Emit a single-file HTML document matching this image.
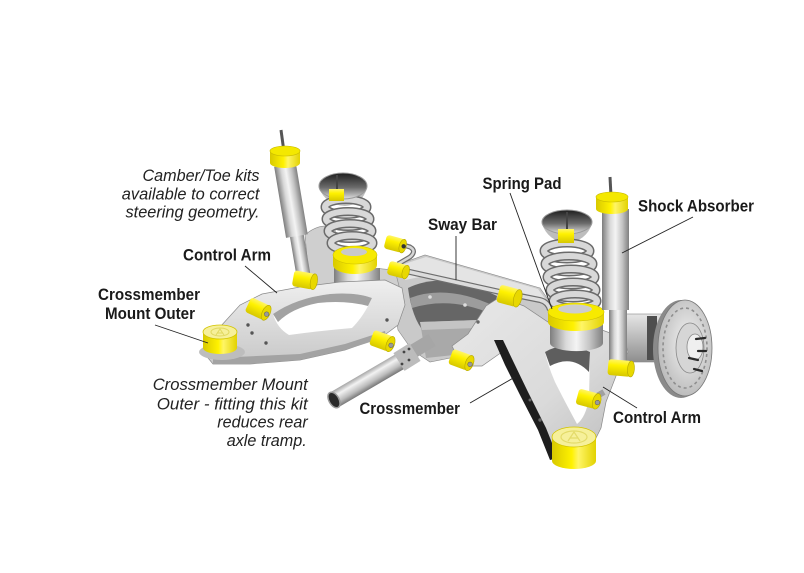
<!DOCTYPE html>
<html><head><meta charset="utf-8"><style>
html,body{margin:0;padding:0;background:#fff;}
svg{display:block}
text{font-family:"Liberation Sans",Arial,sans-serif;fill:#1a1a1a}
.b{font-weight:bold;font-size:16.5px}
.i{font-style:italic;font-size:17px;fill:#222}
</style></head><body>
<svg width="804" height="573" viewBox="0 0 804 573" xmlns="http://www.w3.org/2000/svg">
<defs>
<linearGradient id="cyl" x1="0" x2="1" y1="0" y2="0">
 <stop offset="0" stop-color="#7d7d7d"/><stop offset=".3" stop-color="#d9d9d9"/><stop offset=".5" stop-color="#f4f4f4"/><stop offset=".75" stop-color="#c4c4c4"/><stop offset="1" stop-color="#808080"/>
</linearGradient>
<linearGradient id="yel" x1="0" y1="0" x2="0" y2="1"><stop offset="0" stop-color="#fff566"/><stop offset=".35" stop-color="#fff200"/><stop offset="1" stop-color="#d6c700"/></linearGradient>
<linearGradient id="yelh" x1="0" y1="0" x2="1" y2="0"><stop offset="0" stop-color="#d8c900"/><stop offset=".45" stop-color="#fff200"/><stop offset=".6" stop-color="#fff566"/><stop offset="1" stop-color="#e2d200"/></linearGradient>
<linearGradient id="arm" x1="0" y1="0" x2="0" y2="1"><stop offset="0" stop-color="#efefef"/><stop offset="1" stop-color="#c8c8c8"/></linearGradient>
<linearGradient id="arm2" x1="0" y1="0" x2="1" y2="1"><stop offset="0" stop-color="#e8e8e8"/><stop offset=".6" stop-color="#dadada"/><stop offset="1" stop-color="#bdbdbd"/></linearGradient>
<linearGradient id="cup" x1="0" y1="0" x2="0" y2="1"><stop offset="0" stop-color="#1e1e1e"/><stop offset=".55" stop-color="#6a6a6a"/><stop offset="1" stop-color="#e0e0e0"/></linearGradient>
<radialGradient id="disc" cx=".55" cy=".45" r=".6"><stop offset="0" stop-color="#f4f4f4"/><stop offset="1" stop-color="#b8b8b8"/></radialGradient>
<linearGradient id="tube" gradientUnits="userSpaceOnUse" x1="365.7" y1="371.7" x2="374.3" y2="386.3">
 <stop offset="0" stop-color="#a8a8a8"/><stop offset=".3" stop-color="#f2f2f2"/><stop offset=".7" stop-color="#bcbcbc"/><stop offset="1" stop-color="#787878"/>
</linearGradient>
<linearGradient id="hubg" x1="0" y1="0" x2="0" y2="1"><stop offset="0" stop-color="#e6e6e6"/><stop offset="1" stop-color="#8e8e8e"/></linearGradient>
</defs>

<!-- Brake disc & hub -->
<rect x="622" y="314" width="40" height="48" fill="url(#hubg)" stroke="#888" stroke-width=".6"/>
<rect x="647" y="316" width="10" height="44" fill="#4e4e4e"/>
<ellipse cx="681" cy="349" rx="28" ry="49" fill="#8a8a8a"/>
<ellipse cx="685" cy="348" rx="27" ry="48" fill="url(#disc)" stroke="#777" stroke-width=".8"/>
<ellipse cx="685" cy="348" rx="22" ry="40" fill="none" stroke="#8e8e8e" stroke-width="1.6" stroke-dasharray="3 3"/>
<ellipse cx="690" cy="348" rx="14" ry="25" fill="#d6d6d6" stroke="#888" stroke-width=".8"/>
<ellipse cx="695" cy="347" rx="8" ry="13" fill="#efefef" stroke="#888" stroke-width=".8"/>
<g stroke="#2a2a2a" stroke-width="2.2" stroke-linecap="round">
<line x1="696" y1="339" x2="705" y2="338"/><line x1="698" y1="351" x2="706" y2="351"/>
<line x1="689" y1="358" x2="698" y2="360"/><line x1="694" y1="369" x2="702" y2="371"/>
</g>

<!-- Crossmember -->
<path d="M388,268 L425,255 L540,288 L552,305 L548,322 L500,335 L490,350 L430,362 L412,350 L398,330 Z" fill="#c9c9c9" stroke="#8a8a8a" stroke-width=".6"/>
<path d="M398,266 L426,257 L538,289 L546,300 L520,298 L500,292 L430,275 L405,280 Z" fill="#e4e4e4"/>
<path d="M408,288 Q445,270 497,296 Q492,318 478,332 Q450,340 424,332 Q412,318 408,288 Z" fill="#666"/>
<path d="M410,298 Q447,284 494,306 L492,314 Q450,296 412,308 Z" fill="#9c9c9c"/>
<circle cx="430" cy="297" r="1.8" fill="#ddd"/><circle cx="465" cy="305" r="1.8" fill="#ddd"/>
<path d="M420,322 L478,320 L482,352 L426,358 Z" fill="#a9a9a9"/>
<path d="M420,322 L478,320 L476,328 L422,330 Z" fill="#c4c4c4"/>

<!-- Left upright -->
<path d="M305,235 Q320,222 335,228 L338,265 L395,270 L400,290 L340,300 L310,290 Z" fill="#cfcfcf" stroke="#8a8a8a" stroke-width=".6"/>

<!-- Left shock -->
<line x1="281" y1="130" x2="284" y2="152" stroke="#555" stroke-width="3"/>
<g transform="translate(285,165) rotate(-9.5)">
 <rect x="-7" y="70" width="14" height="44" fill="url(#cyl)"/>
 <rect x="-11" y="0" width="22" height="72" fill="url(#cyl)"/>
</g>
<path d="M270,151 L270,163 A15,5 0 0 0 300,163 L300,151 Z" fill="url(#yelh)"/>
<ellipse cx="285" cy="151" rx="15" ry="5" fill="#f4e800" stroke="#c9bb00" stroke-width=".6"/>

<!-- Left spring base -->
<path d="M334,268 L334,286 A23,8 0 0 0 380,286 L380,268 Z" fill="url(#cyl)"/>
<!-- Left spring cup -->
<path d="M319,188 Q326,205 345,206 Q362,205 367,188 Z" fill="#bdbdbd"/>
<!-- Left coils -->
<g fill="none">
<ellipse cx="346" cy="207" rx="21" ry="7.5" stroke="#6b6b6b" stroke-width="9"/><ellipse cx="346" cy="207" rx="21" ry="7.5" stroke="#d8d8d8" stroke-width="6"/>
<ellipse cx="348" cy="219" rx="22" ry="7.5" stroke="#6b6b6b" stroke-width="9"/><ellipse cx="348" cy="219" rx="22" ry="7.5" stroke="#d8d8d8" stroke-width="6"/>
<ellipse cx="350" cy="231" rx="22" ry="7.5" stroke="#6b6b6b" stroke-width="9"/><ellipse cx="350" cy="231" rx="22" ry="7.5" stroke="#d8d8d8" stroke-width="6"/>
<ellipse cx="352" cy="243" rx="21" ry="7.5" stroke="#6b6b6b" stroke-width="9"/><ellipse cx="352" cy="243" rx="21" ry="7.5" stroke="#d8d8d8" stroke-width="6"/>
</g>
<ellipse cx="343" cy="186" rx="24" ry="13" fill="url(#cup)" stroke="#9a9a9a" stroke-width="1"/>
<line x1="337" y1="175" x2="337" y2="192" stroke="#444" stroke-width="2"/>
<rect x="329" y="189" width="15" height="12" fill="url(#yel)"/>
<path d="M333,255 L333,265 A22,9 0 0 0 377,265 L377,255 Z" fill="url(#yelh)"/>
<ellipse cx="355" cy="255" rx="22" ry="9" fill="#f7ea00" stroke="#cdbf00" stroke-width=".6"/>
<ellipse cx="354" cy="252" rx="13" ry="4" fill="#c9c9c9"/>

<!-- Left control arm -->
<path d="M203,352 L210,338 L240,305 L262,294 L300,287 L340,282 L385,280 L402,288 L405,305 L398,325 L382,337 L345,350 L300,360 L250,364 L213,364 Z" fill="url(#arm)" stroke="#8a8a8a" stroke-width=".7"/>
<path d="M213,358 L300,354 L345,344 L385,331 L386,337 L345,350 L300,360 L250,364 L213,364 Z" fill="#a3a3a3"/>
<path d="M273,314 Q296,298 330,294 Q356,292 372,298 Q364,316 352,328 Q318,331 289,335 Q277,328 273,314 Z" fill="#fff"/>
<path d="M273,314 Q296,298 330,294 Q356,292 372,298 L368,306 Q345,300 318,303 Q292,308 278,322 Z" fill="#a2a2a2"/>
<g fill="#555"><circle cx="248" cy="325" r="1.7"/><circle cx="252" cy="333" r="1.7"/><circle cx="266" cy="343" r="1.7"/><circle cx="387" cy="320" r="1.7"/></g>

<!-- Sway bar -->
<path d="M396,243 L410,247 Q417,251 410,257 L398,264" fill="none" stroke="#6e6e6e" stroke-width="5"/>
<path d="M396,243 L410,247 Q417,251 410,257 L398,264" fill="none" stroke="#d6d6d6" stroke-width="2.5"/>
<path d="M392,268 L500,292 L540,300 Q548,302 550,310" fill="none" stroke="#6e6e6e" stroke-width="6"/>
<path d="M392,268 L500,292 L540,300 Q548,302 550,310" fill="none" stroke="#dcdcdc" stroke-width="3.5"/>

<!-- Driveshaft -->
<line x1="334" y1="400" x2="406" y2="358" stroke="url(#tube)" stroke-width="17"/>
<ellipse cx="334" cy="400" rx="8.5" ry="5" transform="rotate(60 334 400)" fill="#2a2a2a" stroke="#9a9a9a" stroke-width="1.5"/>
<line x1="412" y1="352" x2="432" y2="340" stroke="#a6a6a6" stroke-width="14"/>
<line x1="399" y1="362" x2="415" y2="352" stroke="#bcbcbc" stroke-width="21"/>
<g fill="#444"><circle cx="404" cy="352" r="1.4"/><circle cx="409" cy="349" r="1.4"/><circle cx="409" cy="360" r="1.4"/><circle cx="402" cy="364" r="1.4"/></g>

<!-- Right control arm -->
<path d="M452,346 L468,334 L486,306 L500,297 L524,306 L548,322 L602,330 L624,338 L628,352 L616,376 L606,402 L601,428 L592,446 L560,452 L548,440 L535,410 L516,376 L502,352 L482,366 L462,366 Z" fill="url(#arm2)" stroke="#8a8a8a" stroke-width=".7"/>
<path d="M545,352 Q565,340 590,352 L589,398 Q586,417 577,424 Q564,400 555,382 Q548,366 545,352 Z" fill="#fff"/>
<path d="M545,352 Q565,340 590,352 L589,372 Q572,354 550,366 Z" fill="#5e5e5e"/>
<path d="M494,340 L505,365 L520,395 L538,430 L550,460 L558,458 L546,428 L528,392 L514,363 L503,340 Z" fill="#1e1e1e"/>
<g fill="#666"><circle cx="478" cy="322" r="1.7"/><circle cx="540" cy="420" r="1.7"/><circle cx="530" cy="400" r="1.5"/></g>
<line x1="592" y1="399" x2="604" y2="392" stroke="#a0a0a0" stroke-width="6"/>

<!-- Right spring -->
<path d="M550,318 L550,343 A26,8 0 0 0 603,343 L603,318 Z" fill="url(#cyl)"/>
<path d="M542,224 Q548,241 567,243 Q586,241 592,224 Z" fill="#bdbdbd"/>
<g fill="none">
<ellipse cx="567" cy="251" rx="23" ry="8" stroke="#6b6b6b" stroke-width="9"/><ellipse cx="567" cy="251" rx="23" ry="8" stroke="#d8d8d8" stroke-width="6"/>
<ellipse cx="569" cy="264" rx="24" ry="8" stroke="#6b6b6b" stroke-width="9"/><ellipse cx="569" cy="264" rx="24" ry="8" stroke="#d8d8d8" stroke-width="6"/>
<ellipse cx="571" cy="277" rx="24" ry="8" stroke="#6b6b6b" stroke-width="9"/><ellipse cx="571" cy="277" rx="24" ry="8" stroke="#d8d8d8" stroke-width="6"/>
<ellipse cx="573" cy="290" rx="23" ry="8" stroke="#6b6b6b" stroke-width="9"/><ellipse cx="573" cy="290" rx="23" ry="8" stroke="#d8d8d8" stroke-width="6"/>
<ellipse cx="575" cy="301" rx="22" ry="7" stroke="#6b6b6b" stroke-width="9"/><ellipse cx="575" cy="301" rx="22" ry="7" stroke="#d8d8d8" stroke-width="6"/>
</g>
<ellipse cx="567" cy="222" rx="25" ry="12" fill="url(#cup)" stroke="#9a9a9a" stroke-width="1"/>
<line x1="567" y1="212" x2="567" y2="230" stroke="#444" stroke-width="2"/>
<rect x="558" y="229" width="16" height="14" fill="url(#yel)"/>
<path d="M548,312 L548,322 A28,9 0 0 0 604,322 L604,312 Z" fill="url(#yelh)"/>
<ellipse cx="576" cy="312" rx="28" ry="9" fill="#f7ea00" stroke="#cdbf00" stroke-width=".6"/>
<ellipse cx="575" cy="309" rx="17" ry="4.5" fill="#cdcdcd"/>

<!-- Right shock -->
<line x1="610" y1="177" x2="611" y2="196" stroke="#555" stroke-width="3"/>
<rect x="609" y="308" width="18" height="58" fill="url(#cyl)"/>
<rect x="602" y="209" width="27" height="101" fill="url(#cyl)"/>
<path d="M596,197 L596,209 A16,5 0 0 0 628,209 L628,197 Z" fill="url(#yelh)"/>
<ellipse cx="612" cy="197" rx="16" ry="5" fill="#f4e800" stroke="#c9bb00" stroke-width=".6"/>

<!-- Small bushings -->
<g>
<g transform="translate(258,309) rotate(25)"><rect x="-11" y="-8" width="20" height="16" rx="3" fill="url(#yel)"/><ellipse cx="9" cy="0" rx="4" ry="8" fill="#e8d800" stroke="#b5a800" stroke-width=".6"/><circle cx="10" cy="1" r="2.3" fill="#9a9a9a" stroke="#555" stroke-width=".5"/></g>
<g transform="translate(382,341) rotate(20)"><rect x="-11" y="-8" width="20" height="16" rx="3" fill="url(#yel)"/><ellipse cx="9" cy="0" rx="4" ry="8" fill="#e8d800" stroke="#b5a800" stroke-width=".6"/><circle cx="10" cy="1" r="2.3" fill="#9a9a9a" stroke="#555" stroke-width=".5"/></g>
<g transform="translate(461,360) rotate(20)"><rect x="-11" y="-8" width="20" height="16" rx="3" fill="url(#yel)"/><ellipse cx="9" cy="0" rx="4" ry="8" fill="#e8d800" stroke="#b5a800" stroke-width=".6"/><circle cx="10" cy="1" r="2.3" fill="#9a9a9a" stroke="#555" stroke-width=".5"/></g>
<g transform="translate(509,296) rotate(15)"><rect x="-11" y="-9" width="20" height="18" rx="3" fill="url(#yel)"/><ellipse cx="9" cy="0" rx="4" ry="9" fill="#e8d800" stroke="#b5a800" stroke-width=".6"/></g>
<g transform="translate(395,244) rotate(15)"><rect x="-10" y="-7" width="18" height="14" rx="3" fill="url(#yel)"/><ellipse cx="8" cy="0" rx="3.5" ry="7" fill="#e8d800" stroke="#b5a800" stroke-width=".6"/><circle cx="9" cy="0" r="2.2" fill="#333"/></g>
<g transform="translate(398,270) rotate(15)"><rect x="-10" y="-7" width="18" height="14" rx="3" fill="url(#yel)"/><ellipse cx="8" cy="0" rx="3.5" ry="7" fill="#e8d800" stroke="#b5a800" stroke-width=".6"/></g>
<g transform="translate(588,399) rotate(15)"><rect x="-11" y="-8" width="20" height="16" rx="3" fill="url(#yel)"/><ellipse cx="9" cy="0" rx="4" ry="8" fill="#e8d800" stroke="#b5a800" stroke-width=".6"/><circle cx="10" cy="1" r="2.3" fill="#9a9a9a" stroke="#555" stroke-width=".5"/></g>
<g transform="translate(304,280) rotate(10)"><rect x="-11" y="-8" width="21" height="16" rx="3" fill="url(#yel)"/><ellipse cx="10" cy="0" rx="3.5" ry="8" fill="#e8d800" stroke="#b5a800" stroke-width=".6"/></g>
<g transform="translate(620,368) rotate(5)"><rect x="-12" y="-8" width="23" height="16" rx="3" fill="url(#yel)"/><ellipse cx="11" cy="0" rx="3.5" ry="8" fill="#e8d800" stroke="#b5a800" stroke-width=".6"/></g>
</g>

<!-- Big bushing left -->
<ellipse cx="222" cy="352" rx="23" ry="8" fill="#bdbdbd"/>
<path d="M203,332 L203,348 A17,6 0 0 0 237,348 L237,332 Z" fill="url(#yelh)"/>
<ellipse cx="220" cy="332" rx="17" ry="7" fill="#f6f09a" stroke="#d2c400" stroke-width=".8"/>
<ellipse cx="220" cy="332" rx="9" ry="4" fill="none" stroke="#e0d860" stroke-width="1"/>
<path d="M216,335 L220,329 L224,335 M217,333 L223,333" fill="none" stroke="#e0d860" stroke-width="1"/>

<!-- Big bushing right -->
<path d="M552,437 L552,461 A22,8 0 0 0 596,461 L596,437 Z" fill="url(#yelh)"/>
<ellipse cx="574" cy="437" rx="22" ry="10" fill="#f6f09a" stroke="#d2c400" stroke-width=".8"/>
<ellipse cx="574" cy="437" rx="13" ry="6" fill="none" stroke="#e3db6a" stroke-width="1.2"/>
<path d="M568,441 L574,432 L580,441 M570,438 L578,438" fill="none" stroke="#e3db6a" stroke-width="1.2"/>

<!-- Leader lines -->
<g stroke="#222" stroke-width="0.9" fill="none">
<line x1="245" y1="266" x2="277" y2="293"/>
<line x1="155" y1="325" x2="208" y2="343"/>
<line x1="456" y1="236" x2="456" y2="280"/>
<line x1="510" y1="193" x2="552" y2="309"/>
<line x1="693" y1="217" x2="622" y2="253"/>
<line x1="637" y1="408" x2="603" y2="387"/>
<line x1="470" y1="403" x2="515" y2="377"/>
</g>

<!-- Labels -->
<text class="b" x="482.5" y="189" textLength="79" lengthAdjust="spacingAndGlyphs">Spring Pad</text>
<text class="b" x="638" y="211.7" textLength="116" lengthAdjust="spacingAndGlyphs">Shock Absorber</text>
<text class="b" x="428" y="230" textLength="69" lengthAdjust="spacingAndGlyphs">Sway Bar</text>
<text class="b" x="183" y="260.7" textLength="88" lengthAdjust="spacingAndGlyphs">Control Arm</text>
<text class="b" x="98" y="300" textLength="102" lengthAdjust="spacingAndGlyphs">Crossmember</text>
<text class="b" x="105" y="319" textLength="90" lengthAdjust="spacingAndGlyphs">Mount Outer</text>
<text class="b" x="359.5" y="414" textLength="100.5" lengthAdjust="spacingAndGlyphs">Crossmember</text>
<text class="b" x="613" y="423" textLength="88" lengthAdjust="spacingAndGlyphs">Control Arm</text>

<text class="i" x="142.5" y="181" textLength="117" lengthAdjust="spacingAndGlyphs">Camber/Toe kits</text>
<text class="i" x="121.8" y="199.3" textLength="137.7" lengthAdjust="spacingAndGlyphs">available to correct</text>
<text class="i" x="125.5" y="217.7" textLength="134" lengthAdjust="spacingAndGlyphs">steering geometry.</text>

<text class="i" x="152.7" y="390" textLength="155" lengthAdjust="spacingAndGlyphs">Crossmember Mount</text>
<text class="i" x="156.7" y="409.3" textLength="151" lengthAdjust="spacingAndGlyphs">Outer - fitting this kit</text>
<text class="i" x="217.3" y="427.7" textLength="90.4" lengthAdjust="spacingAndGlyphs">reduces rear</text>
<text class="i" x="226.7" y="446" textLength="80" lengthAdjust="spacingAndGlyphs">axle tramp.</text>
</svg>
</body></html>
